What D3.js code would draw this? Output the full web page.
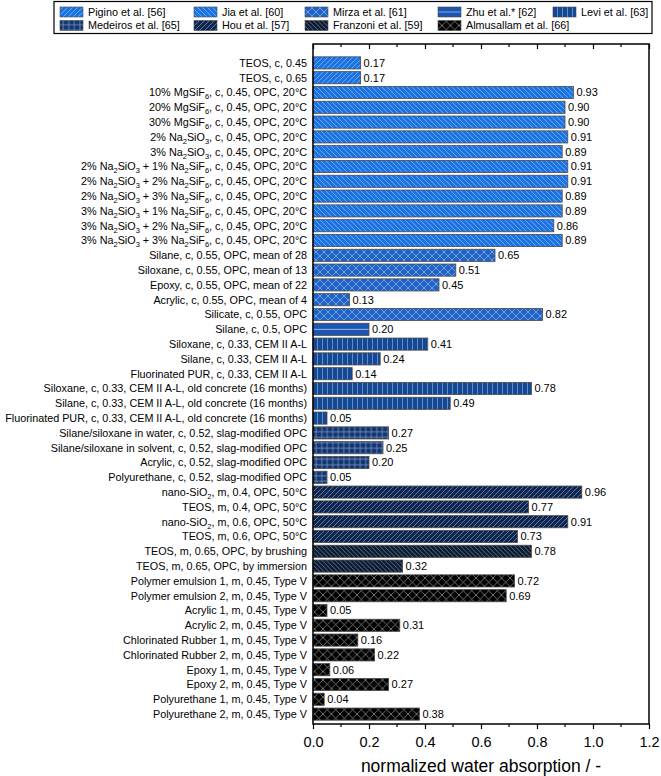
<!DOCTYPE html>
<html><head><meta charset="utf-8">
<script src="https://cdn.jsdelivr.net/npm/d3@7"></script>
<style>body{margin:0;background:#fff}svg{display:block}text{font-family:Arial,"Liberation Sans",sans-serif}</style>
</head><body><svg id="c" width="661" height="776"></svg>
<script>
// ---- data ----
const labels = [
 "TEOS, c, 0.45","TEOS, c, 0.65",
 "10% MgSiF_6, c, 0.45, OPC, 20°C","20% MgSiF_6, c, 0.45, OPC, 20°C","30% MgSiF_6, c, 0.45, OPC, 20°C",
 "2% Na_2SiO_3, c, 0.45, OPC, 20°C","3% Na_2SiO_3, c, 0.45, OPC, 20°C",
 "2% Na_2SiO_3 + 1% Na_2SiF_6, c, 0.45, OPC, 20°C","2% Na_2SiO_3 + 2% Na_2SiF_6, c, 0.45, OPC, 20°C",
 "2% Na_2SiO_3 + 3% Na_2SiF_6, c, 0.45, OPC, 20°C","3% Na_2SiO_3 + 1% Na_2SiF_6, c, 0.45, OPC, 20°C",
 "3% Na_2SiO_3 + 2% Na_2SiF_6, c, 0.45, OPC, 20°C","3% Na_2SiO_3 + 3% Na_2SiF_6, c, 0.45, OPC, 20°C",
 "Silane, c, 0.55, OPC, mean of 28","Siloxane, c, 0.55, OPC, mean of 13","Epoxy, c, 0.55, OPC, mean of 22",
 "Acrylic, c, 0.55, OPC, mean of 4","Silicate, c, 0.55, OPC",
 "Silane, c, 0.5, OPC",
 "Siloxane, c, 0.33, CEM II A-L","Silane, c, 0.33, CEM II A-L","Fluorinated PUR, c, 0.33, CEM II A-L",
 "Siloxane, c, 0.33, CEM II A-L, old concrete (16 months)","Silane, c, 0.33, CEM II A-L, old concrete (16 months)",
 "Fluorinated PUR, c, 0.33, CEM II A-L, old concrete (16 months)",
 "Silane/siloxane in water, c, 0.52, slag-modified OPC","Silane/siloxane in solvent, c, 0.52, slag-modified OPC",
 "Acrylic, c, 0.52, slag-modified OPC","Polyurethane, c, 0.52, slag-modified OPC",
 "nano-SiO_2, m, 0.4, OPC, 50°C","TEOS, m, 0.4, OPC, 50°C","nano-SiO_2, m, 0.6, OPC, 50°C","TEOS, m, 0.6, OPC, 50°C",
 "TEOS, m, 0.65, OPC, by brushing","TEOS, m, 0.65, OPC, by immersion",
 "Polymer emulsion 1, m, 0.45, Type V","Polymer emulsion 2, m, 0.45, Type V",
 "Acrylic 1, m, 0.45, Type V","Acrylic 2, m, 0.45, Type V",
 "Chlorinated Rubber 1, m, 0.45, Type V","Chlorinated Rubber 2, m, 0.45, Type V",
 "Epoxy 1, m, 0.45, Type V","Epoxy 2, m, 0.45, Type V",
 "Polyurethane 1, m, 0.45, Type V","Polyurethane 2, m, 0.45, Type V"
];
const values = [0.17,0.17,0.93,0.90,0.90,0.91,0.89,0.91,0.91,0.89,0.89,0.86,0.89,
 0.65,0.51,0.45,0.13,0.82,0.20,0.41,0.24,0.14,0.78,0.49,0.05,0.27,0.25,0.20,0.05,
 0.96,0.77,0.91,0.73,0.78,0.32,0.72,0.69,0.05,0.31,0.16,0.22,0.06,0.27,0.04,0.38];
const sources = [0,0, 1,1,1,1,1,1,1,1,1,1,1, 2,2,2,2,2, 3, 4,4,4,4,4,4, 5,5,5,5, 6,6,6,6, 7,7, 8,8,8,8,8,8,8,8,8,8];
const seriesNames = ["Pigino et al. [56]","Jia et al. [60]","Mirza et al. [61]","Zhu et al.* [62]","Levi et al. [63]",
 "Medeiros et al. [65]","Hou et al. [57]","Franzoni et al. [59]","Almusallam et al. [66]"];
const xTicks = [0,0.2,0.4,0.6,0.8,1.0,1.2];

// ---- style ----
const fills = ["#1c74e4","#1c74e4","#1f63c6","#1a56b2","#134894","#0e3673","#0c2651","#0b1a33","#000000"];
const hatch = ["#7db2f2","#7db2f2","#86aee6","#9fbbe6","#7f9bcb","#8294b8","#7d8aa6","#7c8494","#8a8a8a"];
const L=313, R=649, T=44, B=724;
const svg=d3.select("#c");
const defs=svg.append("defs");
function pat(i){
  const id="p"+i, f=fills[i], h=hatch[i];
  let p;
  if(i===3){
    p=defs.append("pattern").attr("id",id).attr("patternUnits","objectBoundingBox").attr("patternContentUnits","objectBoundingBox").attr("width",1).attr("height",1);
    p.append("rect").attr("width",1).attr("height",1).attr("fill",f);
    p.append("rect").attr("x",0).attr("y",0.46).attr("width",1).attr("height",0.08).attr("fill",h);
    return;
  }
  const s = {0:5,1:5,2:8,4:5,5:5.5,6:5,7:4.5,8:8.5}[i];
  p=defs.append("pattern").attr("id",id).attr("patternUnits","userSpaceOnUse").attr("width",s).attr("height",s);
  p.append("rect").attr("width",s).attr("height",s).attr("fill",f);
  const ln=(x1,y1,x2,y2)=>p.append("line").attr("x1",x1).attr("y1",y1).attr("x2",x2).attr("y2",y2).attr("stroke",h).attr("stroke-width",0.8);
  if(i===0||i===6){ln(0,s,s,0);ln(-s,s,0,0);ln(s,2*s,2*s,s);}
  else if(i===1||i===7){ln(0,0,s,s);ln(-s,0,0,s);ln(s,0,2*s,s);}
  else if(i===2||i===8){ln(0,0,s,s);ln(0,s,s,0);}
  else if(i===4){ln(s/2,0,s/2,s);}
  else if(i===5){ln(s/2,0,s/2,s);ln(0,s/2,s,s/2);}
}
for(let i=0;i<9;i++) pat(i);

const x=d3.scaleLinear().domain([0,1.2]).range([L,R]);
const y=d3.scaleBand().domain(d3.range(labels.length)).range([55.5,721.5]).paddingInner(0.18).paddingOuter(0.09);

svg.append("g").selectAll("rect").data(values).join("rect")
 .attr("x",x(0)).attr("y",(d,i)=>y(i)).attr("width",d=>x(d)-x(0)).attr("height",y.bandwidth())
 .attr("fill",(d,i)=>`url(#p${sources[i]})`).attr("stroke","#4a4a4a").attr("stroke-width",0.8);

svg.append("g").selectAll("text").data(values).join("text")
 .attr("x",d=>x(d)+3).attr("y",(d,i)=>y(i)+y.bandwidth()/2).attr("dy","0.36em")
 .attr("font-size",11).attr("fill","#000").text(d=>d.toFixed(2));

function richText(sel,str){
  const parts=str.split(/(_\d)/);
  let sub=false;
  parts.forEach(pt=>{
    if(!pt) return;
    if(pt[0]==="_"){
      sel.append("tspan").attr("font-size",7.5).attr("dy",3).text(pt.slice(1));
      sub=true;
    } else {
      const t=sel.append("tspan").text(pt);
      if(sub){t.attr("dy",-3);sub=false;}
    }
  });
}
const lg=svg.append("g");
labels.forEach((s,i)=>{
  const t=lg.append("text").attr("x",307).attr("y",y(i)+y.bandwidth()/2).attr("dy","0.36em")
    .attr("text-anchor","end").attr("font-size",10.8).attr("fill","#000");
  richText(t,s);
});

svg.append("rect").attr("x",L).attr("y",T).attr("width",R-L).attr("height",B-T).attr("fill","none").attr("stroke","#000").attr("stroke-width",1.5);

const ax=svg.append("g").attr("transform",`translate(0,${B})`)
 .call(d3.axisBottom(x).tickValues(xTicks).tickFormat(d3.format(".1f")).tickSize(5).tickPadding(8));
ax.select(".domain").remove();
ax.selectAll("line").attr("stroke-width",1.2);
ax.selectAll("text").attr("font-size",14.5).attr("font-family","Arial, Liberation Sans, sans-serif");
const minor=d3.range(0.1,1.2,0.2);
svg.append("g").selectAll("line").data(minor).join("line")
 .attr("x1",d=>x(d)).attr("x2",d=>x(d)).attr("y1",B).attr("y2",B+3).attr("stroke","#000").attr("stroke-width",1.2);
const topAx=svg.append("g").attr("transform",`translate(0,${T})`)
 .call(d3.axisTop(x).tickValues(xTicks).tickFormat("").tickSize(-5));
topAx.select(".domain").remove();
topAx.selectAll("line").attr("stroke-width",1.2);
svg.append("g").selectAll("line").data(minor).join("line")
 .attr("x1",d=>x(d)).attr("x2",d=>x(d)).attr("y1",T).attr("y2",T+3).attr("stroke","#000").attr("stroke-width",1.2);

svg.append("text").attr("x",(L+R)/2).attr("y",772).attr("text-anchor","middle").attr("font-size",17.5)
 .text("normalized water absorption / -");

const legPos=[[0,0],[1,0],[2,0],[3,0],[4,0],[0,1],[1,1],[2,1],[3,1]];
const colX=[60,194,305,438,553];
const leg=svg.append("g");
leg.append("rect").attr("x",54).attr("y",1.5).attr("width",598).attr("height",32).attr("fill","#fff").attr("stroke","#000").attr("stroke-width",1.2);
seriesNames.forEach((n,i)=>{
  const cx=colX[legPos[i][0]], cy=legPos[i][1]===0?12:25.5;
  leg.append("rect").attr("x",cx).attr("y",cy-5).attr("width",23).attr("height",10).attr("fill",`url(#p${i})`).attr("stroke","#4a4a4a").attr("stroke-width",0.6);
  leg.append("text").attr("x",cx+28).attr("y",cy).attr("dy","0.36em").attr("font-size",10.8).text(n);
});
</script></body></html>
